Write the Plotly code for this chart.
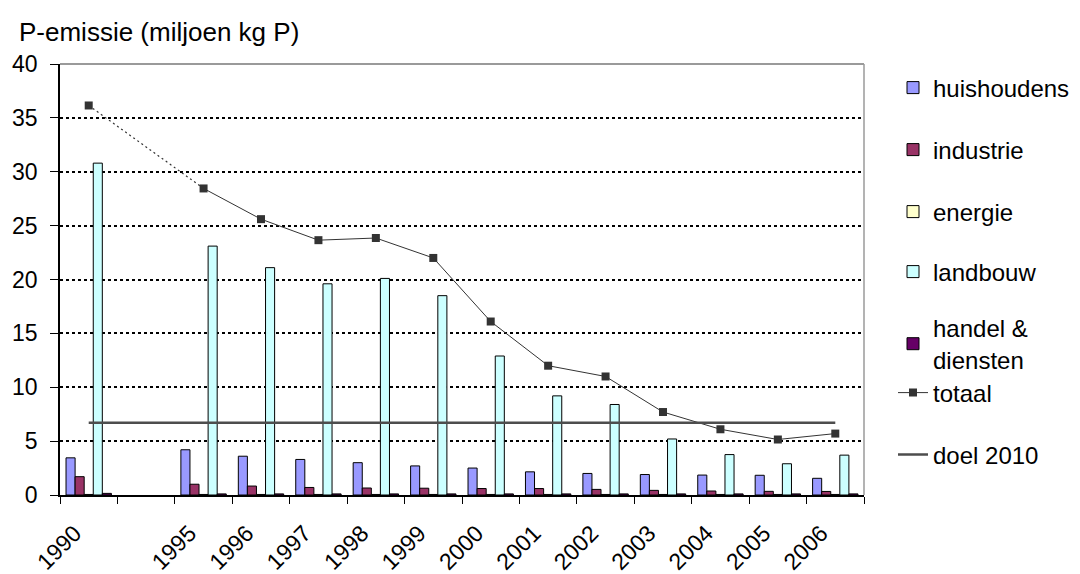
import plotly.graph_objects as go

years = ["1990", " ", "1995", "1996", "1997", "1998", "1999", "2000", "2001",
         "2002", "2003", "2004", "2005", "2006"]
huishoudens = [3.45, None, 4.2, 3.6, 3.3, 3.0, 2.7, 2.5, 2.15, 2.0, 1.9, 1.85, 1.83, 1.55]
industrie = [1.7, None, 1.0, 0.83, 0.7, 0.65, 0.63, 0.6, 0.6, 0.52, 0.43, 0.37, 0.34, 0.33]
energie = [0.05, None, 0.05, 0.05, 0.05, 0.05, 0.05, 0.05, 0.05, 0.05, 0.05, 0.05, 0.05, 0.05]
landbouw = [30.8, None, 23.1, 21.1, 19.6, 20.1, 18.5, 12.9, 9.2, 8.4, 5.2, 3.75, 2.9, 3.7]
handel = [0.15, None, 0.1, 0.1, 0.1, 0.1, 0.1, 0.1, 0.1, 0.1, 0.1, 0.1, 0.1, 0.1]
totaal = [36.15, None, 28.45, 25.6, 23.65, 23.85, 22.0, 16.1, 12.0, 11.0, 7.7, 6.1, 5.15, 5.7]
doel = [6.7] * 14

FONT = "Liberation Sans, Arial, sans-serif"
PLOT_L, PLOT_R, PLOT_T, PLOT_B = 60, 864, 64, 495

def py(ypix):
    return (PLOT_B - ypix) / (PLOT_B - PLOT_T)

def px(xpix):
    return (xpix - PLOT_L) / (PLOT_R - PLOT_L)

fig = go.Figure()
bar_specs = [
    ("huishoudens", huishoudens, "#9999FF"),
    ("industrie", industrie, "#993366"),
    ("energie", energie, "#FFFFCC"),
    ("landbouw", landbouw, "#CCFFFF"),
    ("handel &amp;<br>diensten", handel, "#660066"),
]
legend_ids = ["legend", "legend2", "legend3", "legend4", "legend5", "legend6", "legend7"]
legend_y = [88, 150, 212, 272, 344, 393, 455]

for i, (name, vals, col) in enumerate(bar_specs):
    fig.add_trace(go.Bar(x=years, y=vals, name=name, legend=legend_ids[i],
                         marker=dict(color=col, line=dict(color="#000000", width=1))))

# dotted connection across missing years (1990 -> 1995)
fig.add_trace(go.Scatter(x=years[:3], y=totaal[:3], mode="lines", connectgaps=True,
                         line=dict(color="#333333", width=1.2, dash="2px,3px"),
                         showlegend=False, hoverinfo="skip"))
fig.add_trace(go.Scatter(x=years, y=totaal, name="totaal", legend=legend_ids[5],
                         mode="lines+markers", connectgaps=False,
                         line=dict(color="#333333", width=1),
                         marker=dict(symbol="square", size=8, color="#333333")))
fig.add_trace(go.Scatter(x=years, y=doel, name="doel 2010", legend=legend_ids[6],
                         mode="lines", line=dict(color="#4d4d4d", width=2.5)))

legend_layout = {}
for lid, yc in zip(legend_ids, legend_y):
    legend_layout[lid] = dict(x=px(893), xanchor="left", y=py(yc), yanchor="middle",
                              font=dict(size=24, family=FONT, color="#000000"),
                              bgcolor="rgba(0,0,0,0)", itemwidth=30, borderwidth=0)

fig.update_layout(
    width=1080, height=574,
    margin=dict(l=PLOT_L, r=1080 - PLOT_R, t=PLOT_T, b=574 - PLOT_B, autoexpand=False),
    paper_bgcolor="white", plot_bgcolor="white",
    font=dict(family=FONT, size=23, color="#000000"),
    barmode="group", bargap=0.21, bargroupgap=0,
    showlegend=True,
    shapes=[
        dict(type="line", xref="paper", yref="paper", x0=0, x1=1, y0=1, y1=1,
             line=dict(color="#9a9a9a", width=2), layer="above"),
        dict(type="line", xref="paper", yref="paper", x0=1, x1=1, y0=0, y1=1,
             line=dict(color="#9a9a9a", width=1.5), layer="above"),
    ],
    annotations=[dict(text="P-emissie (miljoen kg P)", xref="paper", yref="paper",
                      x=px(17), y=py(32), xanchor="left", yanchor="middle",
                      showarrow=False, font=dict(size=26, family=FONT))],
    **legend_layout,
)
fig.update_xaxes(type="category", categoryorder="array", categoryarray=years,
                 range=[-0.5, len(years) - 0.5], automargin=False,
                 tickangle=-45, tickson="boundaries", ticks="outside", ticklen=7,
                 ticklabelshift=-14, ticklabelstandoff=14,
                 tickcolor="#000000", showline=True, linecolor="#000000", linewidth=1.5,
                 showgrid=False, tickfont=dict(size=23, family=FONT))
fig.update_yaxes(range=[0, 40], dtick=5, ticks="outside", ticklen=8, tickcolor="#000000",
                 ticklabelstandoff=8, automargin=False,
                 showline=True, linecolor="#000000", linewidth=1.5,
                 showgrid=True, gridcolor="#000000", gridwidth=2, griddash="3px,3px",
                 zeroline=False, tickfont=dict(size=23, family=FONT))

fig.write_html("out.html")
